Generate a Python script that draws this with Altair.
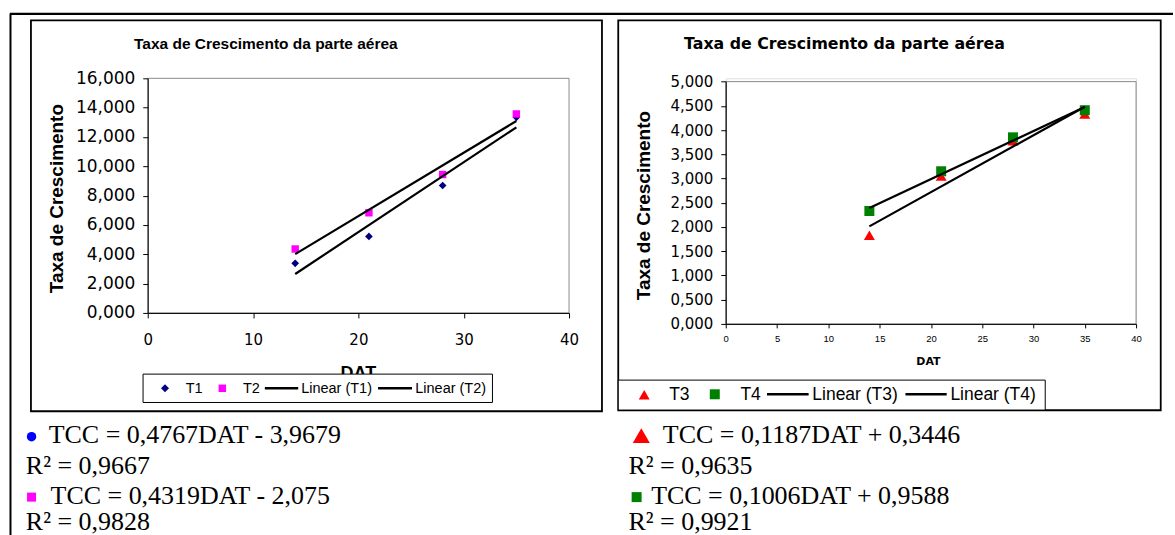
import altair as alt
import pandas as pd

# ---------------- data ----------------
dat = [14, 21, 28, 35]
t1 = [3.38, 5.22, 8.69, 13.34]
t2 = [4.36, 6.83, 9.44, 13.57]
t3 = [1.83, 3.05, 3.78, 4.33]
t4 = [2.33, 3.15, 3.85, 4.41]

chart_title = "Taxa de Crescimento da parte aérea"
y_title = "Taxa de Crescimento"
x_title = "DAT"
legend_left = ["T1", "T2", "Linear (T1)", "Linear (T2)"]
legend_right = ["T3", "T4", "Linear (T3)", "Linear (T4)"]
eq_left = ["TCC = 0,4767DAT - 3,9679", "R² = 0,9667", "TCC = 0,4319DAT - 2,075", "R² = 0,9828"]
eq_right = ["TCC = 0,1187DAT + 0,3446", "R² = 0,9635", "TCC = 0,1006DAT + 0,9588", "R² = 0,9921"]
xl_ticks = [0, 10, 20, 30, 40]
yl_ticks = [0, 2, 4, 6, 8, 10, 12, 14, 16]
xr_ticks = [0, 5, 10, 15, 20, 25, 30, 35, 40]
yr_ticks = [0, 0.5, 1, 1.5, 2, 2.5, 3, 3.5, 4, 4.5, 5]

NAVY, MAGENTA, RED, GREEN, BLUE = "#000080", "#ff00ff", "#ff0000", "#008000", "#0000ff"
SANS = "Liberation Sans"
WIDE = "DejaVu Sans"
SERIF = "Liberation Serif"

df_t1 = pd.DataFrame({"DAT": dat, "value": t1, "series": "T1"})
df_t2 = pd.DataFrame({"DAT": dat, "value": t2, "series": "T2"})
df_t3 = pd.DataFrame({"DAT": dat, "value": t3, "series": "T3"})
df_t4 = pd.DataFrame({"DAT": dat, "value": t4, "series": "T4"})
df_left = pd.concat([df_t1, df_t2], ignore_index=True)
df_right = pd.concat([df_t3, df_t4], ignore_index=True)

ONE = alt.Data(values=[{"k": 0}])

# panel origins (absolute pixel positions of the plot areas)
OL = (147, 77)
WL, HL = 422, 235
OR = (726, 77)
WR, HR = 411, 246

LABEL_EXPR = "replace(format(datum.value, '.3f'), '.', ',')"
EQ_SIZE = 26


def text(o, x, y, s, size, font, weight="normal", align="left", baseline="alphabetic", angle=0, color="black"):
    return alt.Chart(ONE).mark_text(
        align=align, baseline=baseline, font=font, fontSize=size, fontWeight=weight,
        angle=angle, color=color
    ).encode(x=alt.value(x - o[0]), y=alt.value(y - o[1]), text=alt.value(s))


def rect(o, x, x2, y, y2, stroke="black", sw=1.0, fill=None):
    kw = dict(strokeWidth=sw)
    if sw > 0:
        kw["stroke"] = stroke
    if fill:
        kw["fill"] = fill
        kw["fillOpacity"] = 1
    else:
        kw["fillOpacity"] = 0
    return alt.Chart(ONE).mark_rect(**kw).encode(
        x=alt.value(x - o[0]), x2=alt.value(x2 - o[0]),
        y=alt.value(y - o[1]), y2=alt.value(y2 - o[1]))


def hline(o, x, x2, y, sw=1.0):
    return alt.Chart(ONE).mark_rule(color="black", strokeWidth=sw).encode(
        x=alt.value(x - o[0]), x2=alt.value(x2 - o[0]), y=alt.value(y - o[1]))


def vline(o, x, y, y2, sw=1.0):
    return alt.Chart(ONE).mark_rule(color="black", strokeWidth=sw).encode(
        x=alt.value(x - o[0]), y=alt.value(y - o[1]), y2=alt.value(y2 - o[1]))


def sym(o, x, y, shape, size, color):
    return alt.Chart(ONE).mark_point(shape=shape, size=size, filled=True, color=color,
                                     opacity=1, strokeWidth=0).encode(
        x=alt.value(x - o[0]), y=alt.value(y - o[1]))


# ---------------- left panel ----------------
axis_xl = alt.Axis(title=None, values=xl_ticks, grid=False, domainColor="black", domainWidth=1,
                   tickColor="black", tickSize=5, labelFont=WIDE, labelFontSize=15,
                   labelColor="black", labelPadding=15, labelFlush=False, labelOverlap=False, zindex=1)
axis_yl = alt.Axis(title=None, values=yl_ticks, grid=False, domainColor="black", domainWidth=1,
                   tickColor="black", tickSize=5, labelFont=WIDE, labelFontSize=17,
                   labelColor="black", labelPadding=8, labelExpr=LABEL_EXPR, labelFlush=False,
                   labelOverlap=False, zindex=1)
XL = alt.X("DAT:Q", scale=alt.Scale(domain=[0, 40], nice=False), axis=axis_xl)
YL = alt.Y("value:Q", scale=alt.Scale(domain=[0, 16], nice=False), axis=axis_yl)

left_layers = [
    rect(OL, 0, 1175, 0, 535, sw=0, fill="white"),
    hline(OL, 9, 1174, 12.5, 2.2),
    vline(OL, 9.5, 12, 535, 2),
    rect(OL, 30, 602, 19, 410.5, sw=1.8),
    rect(OL, OL[0], OL[0] + WL, OL[1], OL[1] + HL, stroke="#8a8a8a", sw=1),
    alt.Chart(df_t1).mark_point(shape="diamond", filled=True, size=60, color=NAVY, opacity=1).encode(x=XL, y=YL),
    alt.Chart(df_t2).mark_point(shape="square", filled=True, size=55, color=MAGENTA, opacity=1).encode(x=XL, y=YL),
    alt.Chart(df_left).transform_regression("DAT", "value", groupby=["series"], extent=[14, 35])
    .mark_line(color="black", strokeWidth=2.2).encode(x=XL, y=YL, detail="series:N"),
    text(OL, 265.3, 47.7, chart_title, 15.5, SANS, "bold", align="center"),
    text(OL, 56.3, 197.5, y_title, 19, SANS, "bold", align="center", baseline="middle", angle=270),
    text(OL, 358, 378, x_title, 18, SANS, "bold", align="center"),
    # legend
    rect(OL, 142.3, 492.3, 373.3, 401.7, sw=1, fill="white"),
    sym(OL, 164.3, 387.5, "diamond", 64, NAVY),
    text(OL, 185, 392.3, legend_left[0], 14.5, SANS),
    sym(OL, 221.7, 387.5, "square", 56, MAGENTA),
    text(OL, 242.3, 392.3, legend_left[1], 14.5, SANS),
    hline(OL, 264.3, 297.7, 387.5, 2.5),
    text(OL, 300.7, 392.3, legend_left[2], 14.5, SANS),
    hline(OL, 377.7, 411.7, 387.5, 2.5),
    text(OL, 415, 392.3, legend_left[3], 14.5, SANS),
    # equations
    sym(OL, 30.6, 436, "circle", 90, BLUE),
    text(OL, 47.8, 442.3, eq_left[0], EQ_SIZE, SERIF),
    text(OL, 24.9, 473.3, eq_left[1], EQ_SIZE, SERIF),
    sym(OL, 30.6, 496.5, "square", 81, MAGENTA),
    text(OL, 49.7, 503.0, eq_left[2], EQ_SIZE, SERIF),
    text(OL, 24.9, 529.5, eq_left[3], EQ_SIZE, SERIF),
]
left = alt.layer(*left_layers).properties(width=WL, height=HL)

# ---------------- right panel ----------------
axis_xr = alt.Axis(title=None, values=xr_ticks, grid=False, domainColor="black", domainWidth=1,
                   tickColor="black", tickSize=4, labelFont=SANS, labelFontSize=9.5,
                   labelColor="black", labelPadding=6, labelFlush=False, labelOverlap=False, zindex=1)
axis_yr = alt.Axis(title=None, values=yr_ticks, grid=False, domainColor="black", domainWidth=1,
                   tickColor="black", tickSize=5, labelFont=WIDE, labelFontSize=15,
                   labelColor="black", labelPadding=8, labelExpr=LABEL_EXPR, labelFlush=False,
                   labelOverlap=False, zindex=1)
XR = alt.X("DAT:Q", scale=alt.Scale(domain=[0, 40], nice=False), axis=axis_xr)
YR = alt.Y("value:Q", scale=alt.Scale(domain=[0, 5], nice=False, range=[HR, 3.3]), axis=axis_yr)

right_layers = [
    rect(OR, 618.3, 1161.7, 19, 409.5, sw=1.8),
    rect(OR, OR[0], OR[0] + WR, 80.3, OR[1] + HR, stroke="#8a8a8a", sw=1),
    alt.Chart(df_t3).mark_point(shape="triangle-up", filled=True, size=120, color=RED, opacity=1).encode(x=XR, y=YR),
    alt.Chart(df_t4).mark_point(shape="square", filled=True, size=100, color=GREEN, opacity=1).encode(x=XR, y=YR),
    alt.Chart(df_right).transform_regression("DAT", "value", groupby=["series"], extent=[14, 35])
    .mark_line(color="black", strokeWidth=2.2).encode(x=XR, y=YR, detail="series:N"),
    text(OR, 844.9, 47.7, chart_title, 15.8, WIDE, "bold", align="center"),
    text(OR, 644, 204.5, y_title, 19, SANS, "bold", align="center", baseline="middle", angle=270),
    text(OR, 929, 364.5, x_title, 11, WIDE, "bold", align="center"),
    # legend
    rect(OR, 618.3, 1046, 379.3, 409.3, sw=1, fill="white"),
    sym(OR, 644.3, 394, "triangle-up", 120, RED),
    text(OR, 669.3, 399.5, legend_right[0], 17.5, SANS),
    sym(OR, 715, 393.5, "square", 100, GREEN),
    text(OR, 740.7, 399.5, legend_right[1], 17.5, SANS),
    hline(OR, 767.3, 809, 393.5, 2.5),
    text(OR, 812.7, 399.5, legend_right[2], 17.5, SANS),
    hline(OR, 906, 947.3, 393.5, 2.5),
    text(OR, 951, 399.5, legend_right[3], 17.5, SANS),
    # equations
    sym(OR, 641.4, 435, "triangle-up", 290, RED),
    text(OR, 663, 442.3, eq_right[0], EQ_SIZE, SERIF),
    text(OR, 628.6, 473.3, eq_right[1], EQ_SIZE, SERIF),
    sym(OR, 636.7, 496.5, "square", 100, GREEN),
    text(OR, 651.3, 503.0, eq_right[2], EQ_SIZE, SERIF),
    text(OR, 628.6, 529.5, eq_right[3], EQ_SIZE, SERIF),
]
right = alt.layer(*right_layers).properties(width=WR, height=HR)

chart = alt.hconcat(left, right, spacing=OR[0] - OL[0] - WL, bounds="flush").properties(
    padding={"left": 0, "top": 0, "right": 0, "bottom": 0}
).configure_view(strokeWidth=0).configure(background="white")

chart.save("out.html", embed_options={"renderer": "svg", "actions": False})
